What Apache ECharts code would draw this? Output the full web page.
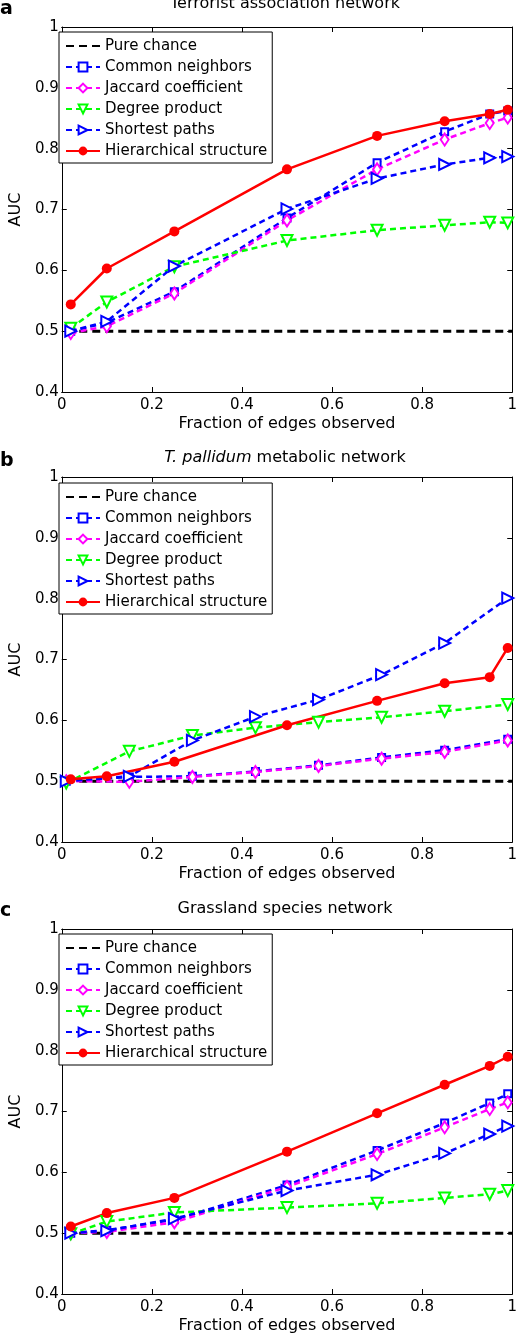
<!DOCTYPE html>
<html>
<head>
<meta charset="utf-8">
<script src="https://cdn.jsdelivr.net/npm/echarts@6/dist/echarts.min.js"></script>
<style>
  html, body { margin: 0; padding: 0; background: #fff; }
  #main { width: 520px; height: 1336px; }
</style>
</head>
<body>
<div id="main"></div>
<script>
// x positions (fraction of edges observed)
const xMain = [0.02, 0.1, 0.25, 0.5, 0.7, 0.85, 0.95, 0.99]
const xPallidum = [0.01, 0.15, 0.29, 0.43, 0.57, 0.71, 0.85, 0.99]
const chanceX = [0.01, 1]
const chanceY = [0.5, 0.5]

const seriesNames = ['Pure chance', 'Common neighbors', 'Jaccard coefficient', 'Degree product', 'Shortest paths', 'Hierarchical structure']
const panelTitles = ['Terrorist association network', '{i|T. pallidum} metabolic network', 'Grassland species network']
const panelLetters = ['a', 'b', 'c']

// a: terrorist association network
const cnA = [0.500, 0.514, 0.565, 0.686, 0.777, 0.828, 0.857, 0.862]
const jcA = [0.497, 0.508, 0.562, 0.682, 0.766, 0.815, 0.842, 0.851]
const dpA = [0.505, 0.548, 0.606, 0.649, 0.666, 0.674, 0.679, 0.678]
const spA = [0.500, 0.516, 0.607, 0.701, 0.751, 0.774, 0.785, 0.787]
const hsA = [0.544, 0.603, 0.664, 0.766, 0.821, 0.845, 0.857, 0.864]

// b: T. pallidum metabolic network
const cnB = [0.500, 0.507, 0.508, 0.516, 0.526, 0.539, 0.551, 0.569]
const jcB = [0.500, 0.499, 0.507, 0.515, 0.525, 0.537, 0.548, 0.567]
const dpB = [0.497, 0.549, 0.575, 0.588, 0.597, 0.605, 0.615, 0.626]
const spB = [0.500, 0.508, 0.567, 0.606, 0.634, 0.675, 0.727, 0.801]
const hsB = [0.503, 0.508, 0.532, 0.592, 0.632, 0.661, 0.671, 0.719]

// c: grassland species network
const cnC = [0.500, 0.505, 0.522, 0.579, 0.636, 0.681, 0.714, 0.729]
const jcC = [0.500, 0.502, 0.518, 0.576, 0.630, 0.674, 0.704, 0.715]
const dpC = [0.499, 0.519, 0.534, 0.542, 0.549, 0.558, 0.564, 0.570]
const spC = [0.500, 0.504, 0.524, 0.570, 0.596, 0.631, 0.663, 0.676]
const hsC = [0.511, 0.533, 0.558, 0.634, 0.697, 0.744, 0.775, 0.790]

const panels = [
  { xs: xMain, hsX: xMain, cn: cnA, jc: jcA, dp: dpA, sp: spA, hs: hsA },
  { xs: xPallidum, hsX: xMain, cn: cnB, jc: jcB, dp: dpB, sp: spB, hs: hsB },
  { xs: xMain, hsX: xMain, cn: cnC, jc: jcC, dp: dpC, sp: spC, hs: hsC }
]

const FONT = 'DejaVu Sans'
const gridTops = [27, 477, 929]
const gridH = 365
const legendTops = [32, 483, 934]
const titleTops = [-4, 450, 901]
const letterTops = [0, 452, 902]

const pairs = (xs, ys) => xs.map((x, i) => [x, ys[i]])

const chart = echarts.init(document.getElementById('main'))

const grid = []
const xAxis = []
const yAxis = []
const series = []
const legend = []
const title = []

gridTops.forEach(function (top, p) {
  grid.push({ left: 53, right: 4, top: top, height: gridH })
  const baseX = {
    type: 'value', gridIndex: p, min: 0, max: 1, interval: 0.2,
    axisLine: { show: true, onZero: false, lineStyle: { color: '#000', width: 1 } },
    axisTick: { show: true, inside: true, length: 5, lineStyle: { color: '#000' } },
    splitLine: { show: false }
  }
  const baseY = {
    type: 'value', gridIndex: p, min: 0.4, max: 1, interval: 0.1,
    axisLine: { show: true, onZero: false, lineStyle: { color: '#000', width: 1 } },
    axisTick: { show: true, inside: true, length: 5, lineStyle: { color: '#000' } },
    splitLine: { show: false }
  }
  xAxis.push(Object.assign({}, baseX, {
    position: 'bottom',
    name: 'Fraction of edges observed', nameLocation: 'middle', nameGap: 24,
    nameTextStyle: { fontFamily: FONT, fontSize: 16, color: '#000' },
    axisLabel: { margin: 6, fontFamily: FONT, fontSize: 15, color: '#000' }
  }))
  xAxis.push(Object.assign({}, baseX, { position: 'top', axisLabel: { show: false } }))
  yAxis.push(Object.assign({}, baseY, {
    position: 'left',
    name: 'AUC', nameLocation: 'middle', nameGap: 35, nameRotate: 90,
    nameTextStyle: { fontFamily: FONT, fontSize: 16, color: '#000' },
    axisLabel: { margin: 3, fontFamily: FONT, fontSize: 15, color: '#000' }
  }))
  yAxis.push(Object.assign({}, baseY, { position: 'right', axisLabel: { show: false } }))

  legend.push({
    data: seriesNames,
    left: 59, top: legendTops[p], orient: 'vertical',
    backgroundColor: '#fff', borderColor: '#000', borderWidth: 1,
    padding: [6, 5, 4, 6],
    itemWidth: 34, itemHeight: 11, itemGap: 5,
    textStyle: { fontFamily: FONT, fontSize: 15, lineHeight: 16, color: '#000' }
  })

  title.push({
    text: panelTitles[p], left: 285, textAlign: 'center', top: titleTops[p], padding: 0,
    textStyle: {
      fontFamily: FONT, fontSize: 16, fontWeight: 'normal', color: '#000',
      rich: { i: { fontFamily: FONT, fontSize: 16, fontStyle: 'italic', color: '#000' } }
    }
  })
  title.push({
    text: panelLetters[p], left: 0, top: letterTops[p], padding: 0,
    textStyle: { fontFamily: FONT, fontSize: 19, fontWeight: 'bold', color: '#000' }
  })

  const d = panels[p]
  const common = { type: 'line', xAxisIndex: p * 2, yAxisIndex: p * 2, animation: false, z: 3 }
  series.push(Object.assign({}, common, {
    name: seriesNames[0], data: pairs(chanceX, chanceY),
    symbol: 'circle', symbolSize: 0, showSymbol: false,
    itemStyle: { color: 'rgba(0,0,0,0)' },
    lineStyle: { color: '#000', width: 3, type: [8, 5] }
  }))
  series.push(Object.assign({}, common, {
    name: seriesNames[1], data: pairs(d.xs, d.cn), symbol: 'emptyRect', symbolSize: 7,
    itemStyle: { color: '#0000ff', borderWidth: 2 },
    lineStyle: { color: '#0000ff', width: 2.5, type: [6, 4] }
  }))
  series.push(Object.assign({}, common, {
    name: seriesNames[2], data: pairs(d.xs, d.jc), symbol: 'emptyDiamond', symbolSize: [8, 12],
    itemStyle: { color: '#ff00ff', borderWidth: 2 },
    lineStyle: { color: '#ff00ff', width: 2.5, type: [6, 4] }
  }))
  series.push(Object.assign({}, common, {
    name: seriesNames[3], data: pairs(d.xs, d.dp), symbol: 'emptyTriangle', symbolSize: 11, symbolRotate: 180,
    itemStyle: { color: '#00ff00', borderWidth: 2 },
    lineStyle: { color: '#00ff00', width: 2.5, type: [6, 4] }
  }))
  series.push(Object.assign({}, common, {
    name: seriesNames[4], data: pairs(d.xs, d.sp), symbol: 'emptyTriangle', symbolSize: 11, symbolRotate: -90,
    itemStyle: { color: '#0000ff', borderWidth: 2 },
    lineStyle: { color: '#0000ff', width: 2.5, type: [6, 4] }
  }))
  series.push(Object.assign({}, common, {
    name: seriesNames[5], data: pairs(d.hsX, d.hs), symbol: 'circle', symbolSize: 10,
    itemStyle: { color: '#ff0000' },
    lineStyle: { color: '#ff0000', width: 2.5 }
  }))
})

chart.setOption({
  animation: false,
  backgroundColor: '#fff',
  title: title,
  legend: legend,
  grid: grid,
  xAxis: xAxis,
  yAxis: yAxis,
  series: series
})
</script>
</body>
</html>
